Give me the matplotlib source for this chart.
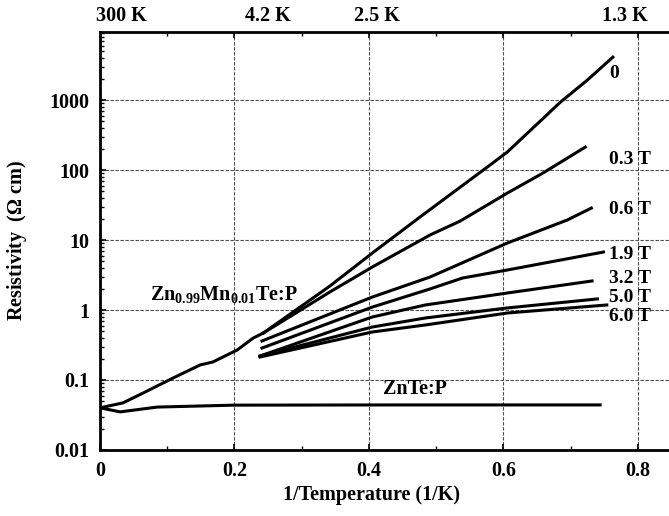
import matplotlib
matplotlib.use('Agg')
import matplotlib.pyplot as plt
import matplotlib.transforms as mtransforms
from matplotlib.ticker import FixedLocator, MultipleLocator, LogLocator, NullFormatter

# Zn0.99Mn0.01Te:P, common high-temperature part
base_x = [0.0, 0.034, 0.064, 0.109, 0.149, 0.168, 0.204, 0.228, 0.243]
base_y = [0.040, 0.047, 0.065, 0.107, 0.164, 0.181, 0.268, 0.398, 0.469]

# low-temperature branches in magnetic field
field_labels = ['0', '0.3 T', '0.6 T', '1.9 T', '3.2 T', '5.0 T', '6.0 T']
field_x = [
    [0.243, 0.342, 0.405, 0.476, 0.576, 0.606, 0.685, 0.725, 0.763],
    [0.243, 0.342, 0.405, 0.491, 0.536, 0.606, 0.659, 0.722],
    [0.241, 0.405, 0.491, 0.606, 0.695, 0.731],
    [0.241, 0.405, 0.491, 0.539, 0.606, 0.749],
    [0.238, 0.405, 0.484, 0.606, 0.732],
    [0.238, 0.405, 0.484, 0.606, 0.740],
    [0.238, 0.405, 0.484, 0.606, 0.754],
]
field_y = [
    [0.469, 2.2, 6.5, 21.3, 110, 181, 935, 1930, 4110],
    [0.469, 1.81, 4.11, 11.8, 18.7, 46.9, 90.6, 213],
    [0.361, 1.53, 2.96, 9.06, 19.3, 28.6],
    [0.286, 1.10, 2.0, 2.86, 3.73, 6.74],
    [0.22, 0.794, 1.18, 1.75, 2.6],
    [0.22, 0.571, 0.769, 1.07, 1.44],
    [0.213, 0.485, 0.611, 0.906, 1.18],
]
label_y = [2400, 140, 27, 6.2, 2.8, 1.5, 0.80]

# ZnTe:P
znte_x = [0.0, 0.03, 0.085, 0.2, 0.44, 0.744]
znte_y = [0.040, 0.035, 0.041, 0.0437, 0.044, 0.044]

# temperatures marked on top
top_temps = [300, 4.2, 2.5, 1.3]
top_texts = ['300 K', '4.2 K', '2.5 K', '1.3 K']

plt.rcParams['font.family'] = 'Liberation Serif'
plt.rcParams['font.weight'] = 'bold'
plt.rcParams['axes.labelweight'] = 'bold'
plt.rcParams['font.size'] = 14
plt.rcParams['mathtext.fontset'] = 'custom'
plt.rcParams['mathtext.rm'] = 'Liberation Serif:bold'
plt.rcParams['mathtext.default'] = 'rm'

fig = plt.figure(figsize=(6.69, 5.16), dpi=100)
ax = fig.add_axes([0.1495, 0.128, 0.854, 0.810])

ax.plot(base_x, base_y, color='black', lw=2.2)
for xs, ys in zip(field_x, field_y):
    ax.plot(xs, ys, color='black', lw=2.2)
ax.plot(znte_x, znte_y, color='black', lw=2.2)

for lab, ly in zip(field_labels, label_y):
    ax.text(0.757, ly, lab, ha='left', va='center', fontsize=14)

ax.text(0.074, 1.39, r'Zn$_{0.99}$Mn$_{0.01}$Te:P', ha='left', va='baseline', fontsize=14.5)
ax.text(0.421, 0.063, 'ZnTe:P', ha='left', va='baseline', fontsize=14.5)

ax.set_yscale('log')
ax.set_xlim(0, 0.85)
ax.set_ylim(0.01, 9400)

ax.set_xticks([0, 0.2, 0.4, 0.6, 0.8])
ax.set_xticklabels(['0', '0.2', '0.4', '0.6', '0.8'])
ax.xaxis.set_minor_locator(MultipleLocator(0.1))
ax.yaxis.set_major_locator(FixedLocator([0.01, 0.1, 1, 10, 100, 1000]))
ax.set_yticklabels(['0.01', '0.1', '1', '10', '100', '1000'])
ax.yaxis.set_minor_locator(LogLocator(base=10, subs=range(2, 10), numticks=20))
ax.yaxis.set_minor_formatter(NullFormatter())

ax.tick_params(which='both', direction='in', top=True, right=False, labelsize=14.5)
ax.tick_params(which='major', length=4, width=1.2, pad=8)
ax.tick_params(which='minor', length=3, width=1)

ax.grid(True, which='major', color='0.3', linestyle=(0, (3, 1.5)), linewidth=0.8)

for side in ['left', 'bottom', 'top']:
    ax.spines[side].set_linewidth(2)
ax.spines['right'].set_visible(False)

ax.set_xlabel('1/Temperature (1/K)', fontsize=14.5)
ax.set_ylabel(r'Resistivity  ($\Omega$ cm)', fontsize=14.5)
ax.xaxis.set_label_coords(0.475, -0.085)
ax.yaxis.set_label_coords(-0.125, 0.5)

trans = mtransforms.blended_transform_factory(ax.transData, ax.transAxes)
shift = mtransforms.ScaledTranslation(8 / 100, 0, fig.dpi_scale_trans)
for t, s in zip(top_temps, top_texts):
    if t > 100:
        ax.text(0, 1.015, s, transform=trans + mtransforms.ScaledTranslation(-4 / 100, 0, fig.dpi_scale_trans),
                ha='left', va='bottom', fontsize=14.5)
    else:
        ax.text(1 / t, 1.015, s, transform=trans + shift, ha='center', va='bottom', fontsize=14.5)

fig.savefig('out.png', dpi=100)
